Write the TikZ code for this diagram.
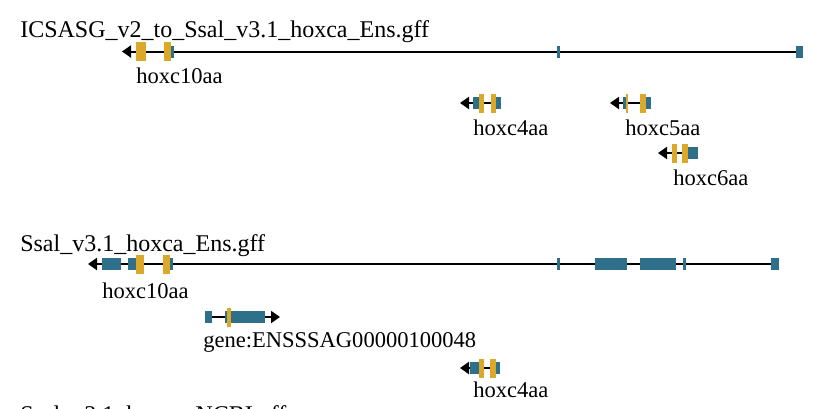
\documentclass[tikz,border=0pt]{standalone}
\usepackage{fontspec}
\setmainfont{Liberation Serif}
\usetikzlibrary{arrows.meta}

\definecolor{cdsyellow}{RGB}{219,168,42}
\definecolor{utrblue}{RGB}{46,112,138}

\tikzset{
    tracktitle/.style={anchor=base west, inner sep=0pt, font=\fontsize{18}{21}\selectfont},
    genelabel/.style={anchor=base west, inner sep=0pt, font=\fontsize{16.9}{20}\selectfont},
    strand/.style={line width=1.5pt, -{Triangle[length=6.75pt,width=9pt]}},
    cds/.style={fill=cdsyellow},
    utr/.style={fill=utrblue}
}

% blocks: {x1}{x2}{y}
\newcommand{\utrblk}[3]{\fill[utr] (#1,#3-6) rectangle (#2,#3+6);}
\newcommand{\cdsblk}[3]{\fill[cds] (#1,#3-9.5) rectangle (#2,#3+9.5);}

\begin{document}
\begin{tikzpicture}[x=0.75pt, y=-0.75pt]
    \useasboundingbox (0,0) rectangle (814,408);

    % Track 1
    \node[tracktitle] (title1) at (20,37) {ICSASG\_v2\_to\_Ssal\_v3.1\_hoxca\_Ens.gff};

    % hoxc10aa
    \coordinate (a10e) at (800,51.5);
    \coordinate (a10s) at (122,51.5);
    \draw[strand] (a10e) -- (a10s);
    \foreach \xa/\xb in {171/174, 557/560, 796/803} {\utrblk{\xa}{\xb}{51.5}}
    \foreach \xa/\xb in {136/146, 164/171} {\cdsblk{\xa}{\xb}{51.5}}
    \node[genelabel] (a10lab) at (136,83.7) {hoxc10aa};

    % hoxc4aa
    \coordinate (a4e) at (499,103);
    \coordinate (a4s) at (460,103);
    \draw[strand] (a4e) -- (a4s);
    \foreach \xa/\xb in {473/479, 496/501} {\utrblk{\xa}{\xb}{103}}
    \foreach \xa/\xb in {479/484, 491/496} {\cdsblk{\xa}{\xb}{103}}
    \node[genelabel] (a4lab) at (473,135) {hoxc4aa};

    % hoxc5aa
    \coordinate (a5e) at (649,103);
    \coordinate (a5s) at (610,103);
    \draw[strand] (a5e) -- (a5s);
    \foreach \xa/\xb in {623/626, 646/651} {\utrblk{\xa}{\xb}{103}}
    \foreach \xa/\xb in {626/628, 640/646} {\cdsblk{\xa}{\xb}{103}}
    \node[genelabel] (a5lab) at (625,135) {hoxc5aa};

    % hoxc6aa
    \coordinate (a6e) at (690,153);
    \coordinate (a6s) at (658,153);
    \draw[strand] (a6e) -- (a6s);
    \utrblk{688}{698}{153}
    \foreach \xa/\xb in {672/677, 682/688} {\cdsblk{\xa}{\xb}{153}}
    \node[genelabel] (a6lab) at (673,185) {hoxc6aa};

    % Track 2
    \node[tracktitle] (title2) at (20,251) {Ssal\_v3.1\_hoxca\_Ens.gff};

    % hoxc10aa
    \coordinate (b10e) at (775,264);
    \coordinate (b10s) at (88,264);
    \draw[strand] (b10e) -- (b10s);
    \foreach \xa/\xb in {102/121, 128/136, 170/173, 557/560, 595/627, 640/676, 683/686, 771/779} {\utrblk{\xa}{\xb}{264}}
    \foreach \xa/\xb in {136/144, 163/170} {\cdsblk{\xa}{\xb}{264}}
    \node[genelabel] (b10lab) at (102,298) {hoxc10aa};

    % gene:ENSSSAG00000100048
    \coordinate (bense) at (207,317);
    \coordinate (benst) at (280,317);
    \draw[strand] (bense) -- (benst);
    \foreach \xa/\xb in {205/212, 225/228, 231/265} {\utrblk{\xa}{\xb}{317}}
    \cdsblk{227}{231}{317}
    \node[genelabel] (benslab) at (203,347) {gene:ENSSSAG00000100048};

    % hoxc4aa
    \coordinate (b4e) at (498,368);
    \coordinate (b4s) at (460,368);
    \draw[strand] (b4e) -- (b4s);
    \foreach \xa/\xb in {470/479, 496/500} {\utrblk{\xa}{\xb}{368}}
    \foreach \xa/\xb in {479/484, 490/496} {\cdsblk{\xa}{\xb}{368}}
    \node[genelabel] (b4lab) at (473,397) {hoxc4aa};

    % Track 3 (cut off)
    \node[tracktitle] (title3) at (20,422) {Ssal\_v3.1\_hoxca\_NCBI.gff};
\end{tikzpicture}
\end{document}
